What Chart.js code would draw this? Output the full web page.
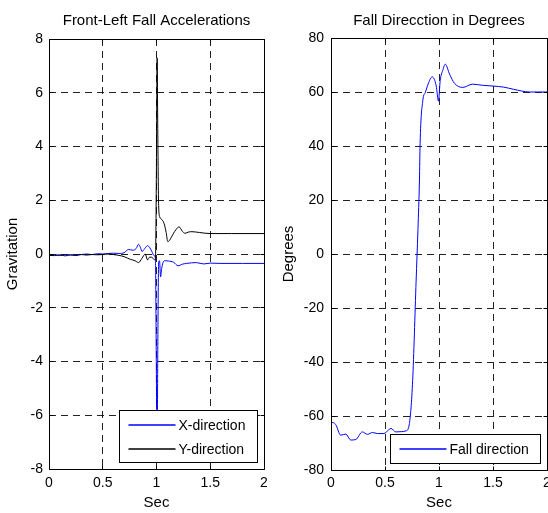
<!DOCTYPE html>
<html><head><meta charset="utf-8">
<script src="https://cdn.jsdelivr.net/npm/chart.js@4/dist/chart.umd.min.js"></script>
<style>
html,body{margin:0;padding:0;background:#fff;width:548px;height:513px;overflow:hidden}
canvas{position:absolute;top:0}
#c1{left:0}
#c2{left:274px}
</style></head><body>
<canvas id="c1" width="274" height="513"></canvas>
<canvas id="c2" width="274" height="513"></canvas>
<script>
// ---- data ----
const leftTitle = 'Front-Left Fall Accelerations';
const rightTitle = 'Fall Direcction in Degrees';
const xAxisLabel = 'Sec';
const leftYLabel = 'Gravitation';
const rightYLabel = 'Degrees';

const xTickValues = [0, 0.5, 1, 1.5, 2];
const leftYTickValues = [-8, -6, -4, -2, 0, 2, 4, 6, 8];
const rightYTickValues = [-80, -60, -40, -20, 0, 20, 40, 60, 80];

const tAccX = [0,0.05,0.1,0.15,0.2,0.25,0.3,0.35,0.4,0.45,0.5,0.55,0.6,0.65,0.7,0.74,0.78,0.81,0.833,0.85,0.865,0.89,0.917,0.935,0.957,0.975,0.99,0.998,1.005,1.013,1.02,1.028,1.038,1.048,1.06,1.08,1.11,1.16,1.2,1.24,1.28,1.37,1.44,1.5,1.6,1.8,2.0];
const accX = [-0.05,-0.02,-0.06,-0.02,-0.04,-0.03,-0.02,0.0,-0.02,0.01,0.0,0.02,0.03,0.02,0.05,0.17,0.14,0.2,0.36,0.25,0.09,0.2,0.31,0.25,0.09,-0.05,-0.16,-4.0,-7.6,-3.0,-0.3,-0.25,-0.85,-0.55,-0.32,-0.25,-0.26,-0.31,-0.44,-0.38,-0.35,-0.32,-0.37,-0.34,-0.35,-0.35,-0.35];

const tAccY = [0,0.05,0.1,0.15,0.2,0.25,0.3,0.35,0.4,0.45,0.5,0.55,0.6,0.65,0.7,0.757,0.8,0.833,0.865,0.895,0.917,0.935,0.957,0.975,0.99,0.998,1.006,1.012,1.02,1.03,1.045,1.07,1.09,1.105,1.12,1.14,1.18,1.21,1.24,1.265,1.3,1.33,1.4,1.5,1.7,2.0];
const accY = [-0.05,-0.06,-0.03,-0.07,-0.03,-0.06,-0.02,-0.04,-0.02,-0.03,-0.02,0.0,-0.02,-0.05,-0.1,-0.2,-0.25,-0.32,-0.16,0.0,-0.22,-0.12,-0.12,-0.2,-0.22,2.5,7.3,4.5,1.8,1.38,1.3,1.14,0.8,0.46,0.5,0.64,0.9,1.01,0.85,0.77,0.82,0.83,0.8,0.76,0.76,0.76];

const tDir = [0,0.043,0.09,0.137,0.183,0.23,0.29,0.338,0.384,0.43,0.49,0.555,0.6,0.65,0.695,0.726,0.756,0.788,0.805,0.819,0.825,0.85,0.874,0.9,0.937,0.974,0.995,1.011,1.035,1.058,1.098,1.144,1.22,1.31,1.4,1.5,1.6,1.69,1.84,2.0];
const fallDir = [-62.2,-63.1,-67.1,-66.7,-68.9,-68.7,-65.9,-66.8,-66.1,-66.5,-66.5,-64.6,-65.9,-65.8,-65.5,-62.8,-46.9,-10.1,9,27.4,40.9,56.8,59.9,63,65.6,62.3,56.6,64.2,68,70.3,66.6,63.2,61.7,62.9,62.5,62.2,61.8,61,60,60];

// ---- helpers ----
const FAM = '"Liberation Sans", Arial, Helvetica, sans-serif';
const pts = (t, v) => t.map((x, i) => ({x: x, y: v[i]}));
const al = p => Math.round(p - 0.5) + 0.5;

function framePlugin(title, legendItems) {
  return {
    id: 'frame',
    afterDraw(chart) {
      const {ctx, chartArea: a, scales} = chart;
      const L = al(a.left), R = al(a.right);
      const T = al(a.top), B = al(a.bottom);
      ctx.save();
      ctx.setLineDash([]);
      ctx.strokeStyle = '#000';
      ctx.lineWidth = 1;
      ctx.beginPath();
      ctx.rect(L, T, R - L, B - T);
      const tl = 4;
      scales.x.ticks.forEach(t => {
        const p = al(scales.x.getPixelForValue(t.value));
        ctx.moveTo(p, B); ctx.lineTo(p, B - tl);
        ctx.moveTo(p, T); ctx.lineTo(p, T + tl);
      });
      scales.y.ticks.forEach(t => {
        const p = al(scales.y.getPixelForValue(t.value));
        ctx.moveTo(L, p); ctx.lineTo(L + tl, p);
        ctx.moveTo(R, p); ctx.lineTo(R - tl, p);
      });
      ctx.stroke();
      // title
      ctx.fillStyle = '#000';
      ctx.font = '15px ' + FAM;
      ctx.textAlign = 'center';
      ctx.textBaseline = 'alphabetic';
      ctx.fillText(title, (a.left + a.right) / 2, 25);
      // legend
      ctx.font = '14px ' + FAM;
      let tw = 0;
      legendItems.forEach(it => { tw = Math.max(tw, ctx.measureText(it.label).width); });
      const rowH = 24;
      const w = Math.round(60 + tw + 11);
      const h = legendItems.length === 1 ? 29 : 52;
      const bx = Math.round(a.right - 7 - w) + 0.5;
      const by = Math.round(a.bottom - 7 - h) + 0.5;
      ctx.fillStyle = '#fff';
      ctx.fillRect(bx, by, w, h);
      ctx.strokeStyle = '#000';
      ctx.strokeRect(bx, by, w, h);
      ctx.textAlign = 'left';
      ctx.textBaseline = 'middle';
      legendItems.forEach((it, i) => {
        const y = Math.round(by + 14 + i * rowH);
        ctx.strokeStyle = it.color;
        ctx.lineWidth = 1.3;
        ctx.beginPath();
        ctx.moveTo(bx + 9, y); ctx.lineTo(bx + 56, y);
        ctx.stroke();
        ctx.fillStyle = '#000';
        ctx.fillText(it.label, bx + 59, y + 1);
      });
      ctx.restore();
    }
  };
}

function makeScales(yTicks, yMin, yMax, yLabel, yWidth, xHeight, yTitlePad, yTickPad, xTickPad) {
  const gridCommon = {color: '#222', lineWidth: 1, drawTicks: false};
  return {
    x: {
      type: 'linear', min: 0, max: 2,
      afterBuildTicks: s => { s.ticks = xTickValues.map(v => ({value: v})); },
      afterFit: s => { s.height = xHeight; s.paddingLeft = 0; s.paddingRight = 0; },
      grid: gridCommon,
      border: {display: false, dash: [7, 5]},
      ticks: {color: '#000', font: {size: 14, family: FAM}, padding: xTickPad, maxRotation: 0, autoSkip: false,
              callback: v => String(v)},
      title: {display: true, text: xAxisLabel, color: '#000', font: {size: 15, family: FAM}, padding: {top: 0, bottom: 1}}
    },
    y: {
      type: 'linear', min: yMin, max: yMax,
      afterBuildTicks: s => { s.ticks = yTicks.map(v => ({value: v})); },
      afterFit: s => { s.width = yWidth; s.paddingTop = 0; s.paddingBottom = 0; },
      grid: gridCommon,
      border: {display: false, dash: [7, 5]},
      ticks: {color: '#000', font: {size: 14, family: FAM}, padding: yTickPad, autoSkip: false,
              callback: v => String(v)},
      title: {display: true, text: yLabel, color: '#000', font: {size: 15, family: FAM}, padding: {top: yTitlePad, bottom: 0}}
    }
  };
}

const lineDs = (label, data, color, order) => ({
  label, data, borderColor: color, backgroundColor: color, borderWidth: 1,
  pointRadius: 0, cubicInterpolationMode: 'monotone', fill: false, order
});

new Chart(document.getElementById('c1'), {
  type: 'line',
  data: {datasets: [
    lineDs('X-direction', pts(tAccX, accX), '#0000ff', 1),
    lineDs('Y-direction', pts(tAccY, accY), '#000000', 0)
  ]},
  options: {
    responsive: false, animation: false, events: [],
    layout: {padding: {top: 39, right: 10, left: 0, bottom: 0}},
    plugins: {legend: {display: false}, title: {display: false}, tooltip: {enabled: false}},
    scales: makeScales(leftYTickValues, -8, 8, leftYLabel, 49, 44, 3.5, 6, 6)
  },
  plugins: [framePlugin(leftTitle, [{label: 'X-direction', color: '#0000ff'}, {label: 'Y-direction', color: '#000'}])]
});

new Chart(document.getElementById('c2'), {
  type: 'line',
  data: {datasets: [
    lineDs('Fall direction', pts(tDir, fallDir), '#0000ff', 0)
  ]},
  options: {
    responsive: false, animation: false, events: [],
    layout: {padding: {top: 38, right: 1, left: 0, bottom: 0}},
    plugins: {legend: {display: false}, title: {display: false}, tooltip: {enabled: false}},
    scales: makeScales(rightYTickValues, -80, 80, rightYLabel, 57, 43, 5.5, 7, 5)
  },
  plugins: [framePlugin(rightTitle, [{label: 'Fall direction', color: '#0000ff'}])]
});
</script>
</body></html>
